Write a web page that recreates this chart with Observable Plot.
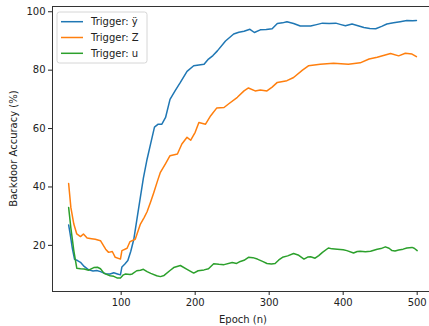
<!DOCTYPE html>
<html>
<head>
<meta charset="utf-8">
<script src="https://cdn.jsdelivr.net/npm/d3@7"></script>
<script src="https://cdn.jsdelivr.net/npm/@observablehq/plot@0.6"></script>
<style>
  html, body { margin: 0; padding: 0; background: #fff; overflow: hidden; }
  #chart svg { max-width: none !important; display: block; }
</style>
</head>
<body>
<div id="chart"></div>
<script>
const seriesNames = ["Trigger: ÿ", "Trigger: Z", "Trigger: u"];
const seriesColors = ["#1f77b4", "#ff7f0e", "#2ca02c"];

const epochsY = [29,31,34,37,41,45,50,56,62,67,72,79,85,90,95,99,101,105,109,113,117,121,125,130,135,140,145,150,155,160,166,173,180,189,198,205,212,218,224,230,241,252,259,266,274,280,288,296,304,311,318,324,333,342,356,364,372,381,390,397,403,412,420,428,436,444,452,459,468,477,486,494,499];
const accY = [27,24,19,15.2,14.8,14.2,12.8,11.6,11.2,11.4,11,10.3,10.2,10.6,10.2,9.9,12.6,13.6,14.8,18,22,28.5,35,43,49.5,55,60.5,61.5,61.5,63.8,70,73,75.8,79.6,81.5,81.8,82,83.8,85,86.6,90,92.4,93,93.3,94,92.9,93.8,93.9,94.2,96,96.2,96.6,96,95.1,95.1,95.6,96.1,96,96.1,95.6,95.2,95.8,95.2,94.6,94.3,94.2,95,95.8,96.2,96.6,97,96.9,97];

const epochsZ = [29,32,36,40,45,49,54,60,65,72,79,83,88,92,99,101,108,112,119,126,131,135,140,144,149,153,160,166,176,182,189,194,200,205,214,221,229,239,245,257,266,272,281,288,297,304,311,324,333,345,353,369,387,407,423,435,446,464,475,484,493,499];
const accZ = [41.2,33,27.3,23.9,23,23.9,22.5,22.3,22.1,21.6,18.7,17.6,17.9,15.9,15.3,18.2,19,21.3,22.1,27.3,29.5,31.5,35,38,42,45,48,50.7,51.3,54.7,57,56,58.7,62.1,61.5,64.4,67,67.2,68.4,70.7,72.9,73.9,72.9,73.2,72.9,74.2,75.8,76.4,77.5,80,81.5,82,82.4,82,82.5,83.8,84.4,85.7,84.9,85.8,85.5,84.6];

const epochsU = [29,32,36,40,45,50,56,63,68,72,77,85,90,95,99,103,106,112,115,121,126,130,135,140,148,153,158,166,171,180,189,198,204,212,218,225,232,239,250,256,261,266,272,278,284,291,297,303,308,313,318,325,333,340,347,352,356,362,367,372,380,385,392,400,405,414,419,423,430,437,446,451,457,462,466,470,475,481,486,493,496,500];
const accU = [33,26,18.2,12.2,12,11.9,11.5,12.4,12.5,12,10.4,9.6,9.4,8.8,8.8,9.9,10.2,10,10.2,11.3,11.5,11.8,11,10.4,9.6,9.3,9.7,11.4,12.4,13.1,11.8,10.5,11.3,11.6,12,13.7,13.5,13.4,14.1,13.8,14.5,14.9,15.9,15.8,15.3,14.5,13.8,13.6,13.8,15,15.9,16.4,17.2,16.6,15.3,16,16.1,15.6,16.5,17.6,19.1,18.8,18.7,18.5,18.2,17.4,17.9,18,17.8,18,18.7,18.9,19.5,19,18.2,18.1,18.4,18.7,19.1,19.3,19,18.2];

const xTicks = [100, 200, 300, 400, 500];
const yTicks = [20, 40, 60, 80, 100];
const xLabel = "Epoch (n)";
const yLabel = "Backdoor Accuracy (%)";

const rows = [
  ...epochsY.map((e, i) => ({epoch: e, acc: accY[i], series: seriesNames[0]})),
  ...epochsZ.map((e, i) => ({epoch: e, acc: accZ[i], series: seriesNames[1]})),
  ...epochsU.map((e, i) => ({epoch: e, acc: accU[i], series: seriesNames[2]}))
];

const font = "'DejaVu Sans', sans-serif";
const chart = Plot.plot({
  width: 429,
  height: 326,
  marginLeft: 52,
  marginTop: 6,
  marginBottom: 35,
  marginRight: -5,
  style: {fontFamily: font, fontSize: "10px", color: "#222", background: "#fff"},
  x: {domain: [7.2, 523.4]},
  y: {domain: [4.2, 101.8]},
  color: {domain: seriesNames, range: seriesColors},
  marks: [
    Plot.line(rows, {x: "epoch", y: "acc", z: "series", stroke: "series", strokeWidth: 1.5, curve: "linear"}),
    Plot.frame({stroke: "#333", strokeWidth: 1}),
    Plot.axisX({ticks: xTicks, tickSize: 4, tickPadding: 3, label: null, fontSize: 10}),
    Plot.axisY({ticks: yTicks, tickSize: 4, tickPadding: 3, label: null, fontSize: 10})
  ]
});
document.getElementById("chart").appendChild(chart);

const svg = d3.select(chart);
// axis titles
svg.append("text")
  .attr("x", 243).attr("y", 323)
  .attr("text-anchor", "middle")
  .style("font-family", font).style("font-size", "10px").attr("fill", "#222")
  .text(xLabel);
svg.append("text")
  .attr("transform", "translate(17,148.5) rotate(-90)")
  .attr("text-anchor", "middle")
  .style("font-family", font).style("font-size", "10px").attr("fill", "#222")
  .text(yLabel);

// legend
const lg = svg.append("g").attr("text-anchor", "start");
lg.append("rect")
  .attr("x", 57).attr("y", 12).attr("width", 90).attr("height", 51)
  .attr("rx", 2.5).attr("fill", "#fff").attr("fill-opacity", 0.8)
  .attr("stroke", "#ccc").attr("stroke-width", 0.8);
seriesNames.forEach((name, i) => {
  const cy = 21.7 + i * 15.8;
  lg.append("line").attr("x1", 61).attr("x2", 83).attr("y1", cy).attr("y2", cy)
    .attr("stroke", seriesColors[i]).attr("stroke-width", 1.5);
  lg.append("text").attr("x", 91).attr("y", cy).attr("dy", "0.35em")
    .attr("text-anchor", "start")
    .style("font-family", font).style("font-size", "10px").attr("fill", "#222")
    .text(name);
});
</script>
</body>
</html>
